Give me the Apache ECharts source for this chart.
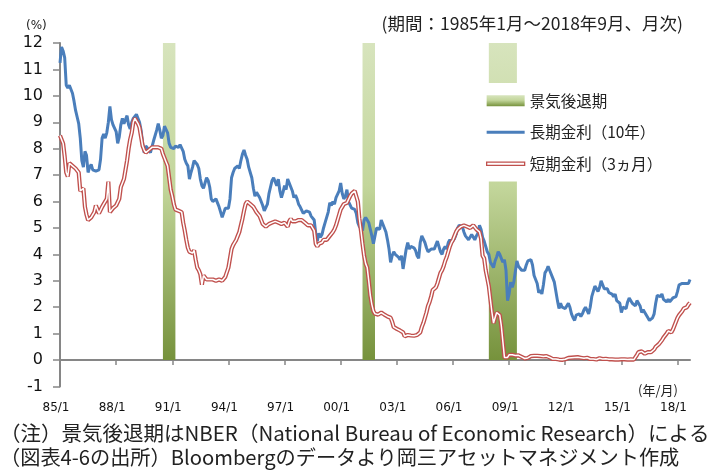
<!DOCTYPE html>
<html>
<head>
<meta charset="utf-8">
<script src="https://cdn.jsdelivr.net/npm/echarts@6/dist/echarts.min.js"></script>
<style>
  html, body { margin: 0; padding: 0; background: #fff; }
  #chart { width: 710px; height: 476px; }
</style>
</head>
<body>
<div id="chart"></div>
<script>
// 月次 1985/1 ～ 2018/9
const months = []
for (let y = 1985; y <= 2018; y++) {
  for (let m = 1; m <= 12; m++) {
    if (y === 2018 && m > 9) break
    months.push(String(y % 100).padStart(2, '0') + '/' + m)
  }
}

// 長期金利（10年）
const longRate = [
  11.25, 11.85, 11.7, 11.45, 10.4, 10.3, 10.4, 10.35, 10.1, 9.8, 9.45, 9.2, // 85
  8.95, 8.4, 7.55, 7.3, 7.9, 7.75, 7.1, 7.3, 7.4, 7.2, 7.2, 7.15, // 86
  7.15, 7.2, 7.6, 8.4, 8.55, 8.4, 8.6, 9.0, 9.6, 9.1, 8.9, 8.95, // 87
  8.65, 8.2, 8.45, 8.9, 9.15, 8.95, 9.1, 9.25, 8.9, 8.75, 9.0, 9.15, // 88
  9.1, 9.3, 9.3, 9.0, 8.7, 8.2, 7.85, 8.1, 8.15, 7.95, 7.85, 7.85, // 89
  8.3, 8.5, 8.7, 8.95, 8.7, 8.4, 8.5, 8.85, 8.8, 8.6, 8.2, 8.05, // 90
  8.05, 8.0, 8.1, 8.05, 8.05, 8.15, 8.2, 7.9, 7.6, 7.45, 7.35, 6.85, // 91
  7.1, 7.3, 7.55, 7.6, 7.4, 7.25, 6.85, 6.6, 6.5, 6.7, 6.9, 6.8, // 92
  6.55, 6.1, 6.0, 6.0, 6.1, 5.95, 5.8, 5.6, 5.4, 5.35, 5.75, 5.75, // 93
  5.75, 6.1, 6.9, 7.1, 7.25, 7.2, 7.35, 7.25, 7.55, 7.8, 7.95, 7.75, // 94
  7.6, 7.3, 7.1, 6.9, 6.5, 6.2, 6.35, 6.4, 6.15, 6.0, 5.85, 5.65, // 95
  5.6, 5.9, 6.3, 6.55, 6.8, 6.9, 6.95, 6.6, 6.85, 6.4, 6.15, 6.35, // 96
  6.6, 6.45, 6.85, 6.8, 6.55, 6.4, 6.15, 6.25, 6.1, 5.9, 5.8, 5.75, // 97
  5.55, 5.6, 5.65, 5.65, 5.6, 5.45, 5.45, 5.3, 4.8, 4.5, 4.8, 4.65, // 98
  4.75, 5.0, 5.2, 5.25, 5.6, 5.95, 5.85, 6.0, 5.9, 6.15, 6.1, 6.4, // 99
  6.7, 6.3, 6.1, 6.2, 6.45, 6.0, 5.95, 5.75, 5.8, 5.7, 5.55, 5.2, // 00
  5.05, 5.0, 4.9, 5.3, 5.4, 5.3, 5.2, 4.95, 4.7, 4.4, 4.35, 5.0, // 01
  5.05, 4.95, 5.3, 5.15, 5.1, 4.85, 4.55, 4.2, 3.7, 3.95, 4.1, 4.0, // 02
  4.05, 3.9, 3.8, 3.95, 3.45, 3.45, 4.2, 4.45, 4.2, 4.3, 4.3, 4.25, // 03
  4.15, 3.95, 3.85, 4.45, 4.7, 4.65, 4.45, 4.25, 4.1, 4.1, 4.2, 4.25, // 04
  4.2, 4.15, 4.5, 4.3, 4.1, 4.0, 4.2, 4.3, 4.2, 4.45, 4.55, 4.45, // 05
  4.45, 4.6, 4.75, 5.0, 5.1, 5.15, 5.05, 4.85, 4.7, 4.7, 4.55, 4.55, // 06
  4.75, 4.7, 4.55, 4.7, 4.8, 5.1, 4.95, 4.65, 4.5, 4.5, 4.1, 4.0, // 07
  3.7, 3.75, 3.5, 3.75, 3.9, 4.1, 4.0, 3.85, 3.7, 3.8, 3.4, 2.25, // 08
  2.5, 2.95, 2.75, 2.95, 3.35, 3.75, 3.55, 3.55, 3.4, 3.4, 3.4, 3.6, // 09
  3.75, 3.7, 3.8, 3.6, 3.2, 3.05, 2.9, 2.55, 2.65, 2.5, 2.85, 3.3, // 10
  3.4, 3.55, 3.4, 3.45, 3.1, 2.95, 2.9, 2.25, 1.95, 2.15, 2.0, 1.95, // 11
  1.95, 1.95, 2.15, 2.0, 1.75, 1.6, 1.5, 1.7, 1.75, 1.75, 1.65, 1.75, // 12
  1.9, 2.0, 1.95, 1.75, 2.0, 2.4, 2.6, 2.8, 2.8, 2.6, 2.75, 3.0, // 13
  2.85, 2.7, 2.75, 2.7, 2.55, 2.6, 2.5, 2.4, 2.5, 2.25, 2.3, 2.15, // 14
  1.8, 2.0, 2.0, 1.95, 2.2, 2.35, 2.3, 2.15, 2.15, 2.05, 2.25, 2.25, // 15
  2.05, 1.8, 1.9, 1.8, 1.8, 1.6, 1.5, 1.55, 1.6, 1.75, 2.15, 2.45, // 16
  2.45, 2.4, 2.5, 2.3, 2.3, 2.2, 2.3, 2.2, 2.2, 2.35, 2.35, 2.4, // 17
  2.6, 2.85, 2.85, 2.9, 2.95, 2.9, 2.9, 2.9, 3.05 // 18
]

// 短期金利（3ヵ月）
const shortRate = [
  8.5, 8.45, 8.2, 7.7, 7.1, 6.95, 7.45, 7.4, 7.35, 7.3, 7.25, 7.2, // 85
  7.1, 6.4, 6.35, 6.5, 5.8, 5.5, 5.3, 5.35, 5.4, 5.5, 5.6, 5.85, // 86
  5.7, 5.55, 5.6, 5.8, 5.9, 5.95, 6.1, 6.75, 5.6, 5.55, 5.75, 5.8, // 87
  5.85, 5.9, 6.1, 6.55, 6.7, 6.85, 7.2, 7.55, 8.0, 8.35, 8.6, 9.0, // 88
  9.15, 9.2, 8.95, 8.8, 8.45, 8.1, 7.95, 7.85, 7.9, 7.95, 8.0, 8.05, // 89
  8.05, 8.05, 8.1, 8.05, 8.0, 8.0, 7.8, 7.65, 7.5, 7.35, 6.9, 6.45, // 90
  6.2, 5.9, 5.7, 5.65, 5.65, 5.65, 5.6, 5.2, 4.9, 4.55, 4.25, 4.1, // 91
  4.05, 4.05, 4.15, 3.8, 3.5, 3.4, 3.25, 2.85, 3.2, 3.25, 3.05, 3.05, // 92
  3.05, 3.0, 3.05, 3.05, 3.0, 3.05, 3.05, 3.05, 3.0, 3.05, 3.15, 3.2, // 93
  3.5, 3.85, 4.2, 4.35, 4.45, 4.55, 4.7, 4.85, 5.1, 5.35, 5.65, 5.9, // 94
  6.0, 6.0, 5.9, 5.85, 5.8, 5.7, 5.6, 5.55, 5.45, 5.3, 5.15, 5.1, // 95
  5.05, 5.1, 5.15, 5.15, 5.2, 5.25, 5.25, 5.2, 5.2, 5.15, 5.15, 5.2, // 96
  5.2, 5.2, 5.05, 5.25, 5.35, 5.25, 5.2, 5.25, 5.25, 5.3, 5.25, 5.3, // 97
  5.25, 5.2, 5.15, 5.1, 5.05, 5.1, 5.05, 4.9, 4.4, 4.3, 4.4, 4.45, // 98
  4.45, 4.55, 4.5, 4.55, 4.6, 4.7, 4.75, 4.85, 4.95, 5.1, 5.3, 5.5, // 99
  5.7, 5.8, 5.9, 5.9, 5.95, 6.0, 6.2, 6.3, 6.35, 6.4, 6.2, 6.0, // 00
  5.35, 4.9, 4.4, 3.95, 3.65, 3.5, 3.0, 2.45, 2.1, 1.85, 1.75, 1.72, // 01
  1.72, 1.75, 1.8, 1.75, 1.72, 1.7, 1.65, 1.6, 1.6, 1.45, 1.25, 1.2, // 02
  1.18, 1.18, 1.12, 1.12, 1.05, 0.9, 0.92, 0.95, 0.95, 0.93, 0.95, 0.92, // 03
  0.92, 0.95, 0.95, 1.05, 1.25, 1.4, 1.6, 1.8, 2.05, 2.2, 2.4, 2.65, // 04
  2.7, 2.75, 2.9, 3.1, 3.3, 3.4, 3.55, 3.75, 3.9, 4.1, 4.3, 4.45, // 05
  4.55, 4.7, 4.85, 4.95, 5.0, 5.05, 5.1, 5.1, 5.05, 5.05, 5.0, 5.0, // 06
  5.05, 5.1, 5.05, 4.95, 4.9, 4.85, 4.6, 3.95, 3.85, 3.4, 3.1, 2.8, // 07
  2.3, 1.8, 1.4, 1.6, 1.8, 1.75, 1.7, 1.3, 0.7, 0.1, 0.05, 0.1, // 08
  0.2, 0.2, 0.2, 0.18, 0.17, 0.18, 0.18, 0.17, 0.12, 0.08, 0.06, 0.05, // 09
  0.08, 0.12, 0.15, 0.16, 0.16, 0.12, 0.16, 0.16, 0.15, 0.13, 0.14, 0.14, // 10
  0.15, 0.13, 0.1, 0.06, 0.04, 0.04, 0.04, 0.05, 0.02, 0.02, 0.01, 0.01, // 11
  0.03, 0.09, 0.08, 0.08, 0.09, 0.09, 0.1, 0.1, 0.11, 0.1, 0.09, 0.07, // 12
  0.07, 0.1, 0.09, 0.06, 0.04, 0.05, 0.04, 0.04, 0.02, 0.05, 0.07, 0.07, // 13
  0.04, 0.05, 0.05, 0.03, 0.03, 0.04, 0.03, 0.03, 0.02, 0.02, 0.02, 0.03, // 14
  0.03, 0.02, 0.03, 0.02, 0.02, 0.02, 0.03, 0.07, 0.02, 0.02, 0.2, 0.3, // 15
  0.28, 0.33, 0.3, 0.24, 0.28, 0.3, 0.3, 0.3, 0.32, 0.4, 0.5, 0.55, // 16
  0.6, 0.55, 0.75, 0.85, 0.9, 1.0, 1.1, 1.05, 1.05, 1.15, 1.3, 1.45, // 17
  1.6, 1.7, 1.75, 1.85, 1.95, 1.95, 2.0, 2.1, 2.17 // 18
]

// 景気後退期（NBER）
const recessions = [
  ['90/7', '91/3'],
  ['01/3', '01/11'],
  ['07/12', '09/6']
]
const RECESSION_TOP = 12

const BLUE = '#4a7ebb'
const RED = '#c0504d'
const JP = '"Noto Sans CJK JP", sans-serif'
const NUM = '"DejaVu Sans", sans-serif'

const recessionFill = {
  type: 'linear', x: 0, y: 0, x2: 0, y2: 1,
  colorStops: [
    { offset: 0, color: '#d7e4bd' },
    { offset: 0.45, color: '#c3d69b' },
    { offset: 1, color: '#76923c' }
  ]
}

const chart = echarts.init(document.getElementById('chart'))

chart.setOption({
  animation: false,
  backgroundColor: '#fff',
  grid: { left: 60, right: 20, top: 43, bottom: 89.5 },
  legend: {
    orient: 'vertical',
    left: 480,
    top: 83,
    padding: [10, 16, 10, 6],
    backgroundColor: '#fff',
    itemWidth: 38,
    itemHeight: 11,
    itemGap: 16,
    itemStyle: { borderWidth: 0 },
    textStyle: { fontFamily: JP, fontSize: 15.5, color: '#222', lineHeight: 15 },
    data: [
      { name: '景気後退期', icon: 'rect' },
      { name: '長期金利（10年）', icon: 'path://M0,0H38V3H0Z' },
      {
        name: '短期金利（3ヵ月）',
        icon: 'path://M0,0H38V3.4H0Z',
        itemStyle: { color: '#fff', borderColor: RED, borderWidth: 1.3 }
      }
    ]
  },
  xAxis: [
    {
      type: 'category',
      data: months,
      boundaryGap: false,
      axisLine: { show: false, onZero: false },
      axisTick: { show: false },
      axisLabel: {
        interval: 35,
        margin: 15,
        padding: [0, 8, 0, 0],
        fontFamily: NUM,
        fontSize: 12,
        color: '#111'
      },
      splitLine: { show: false }
    },
    {
      type: 'category',
      data: months,
      boundaryGap: false,
      position: 'bottom',
      axisLine: { onZero: true, lineStyle: { color: '#868686', width: 2 } },
      axisTick: { show: true, interval: 35, length: 5, lineStyle: { color: '#868686', width: 1.5 } },
      axisLabel: { show: false },
      splitLine: { show: false }
    }
  ],
  yAxis: {
    type: 'value',
    min: -1,
    max: 12,
    interval: 1,
    axisLine: { show: true, lineStyle: { color: '#868686', width: 2 } },
    axisTick: { show: true, length: 7, lineStyle: { color: '#868686', width: 1.5 } },
    axisLabel: { margin: 17, fontFamily: NUM, fontSize: 16, color: '#111' },
    splitLine: { show: false }
  },
  graphic: [
    {
      type: 'text', x: 26, y: 26,
      style: { text: '(%)', font: '12px ' + NUM, fill: '#222', textVerticalAlign: 'middle' }
    },
    {
      type: 'text', x: 683, y: 23,
      style: {
        text: '(期間：1985年1月～2018年9月、月次)',
        font: '17.5px ' + JP, fill: '#222', textAlign: 'right', textVerticalAlign: 'middle'
      }
    },
    {
      type: 'text', x: 678, y: 390,
      style: { text: '(年/月)', font: '13px ' + JP, fill: '#222', textAlign: 'right', textVerticalAlign: 'middle' }
    },
    {
      type: 'text', x: 0, y: 433,
      style: {
        text: '（注）景気後退期はNBER（National Bureau of Economic Research）による',
        font: '20.5px ' + JP, fill: '#222', textVerticalAlign: 'middle'
      }
    },
    {
      type: 'text', x: 0, y: 457,
      style: {
        text: '（図表4-6の出所）Bloombergのデータより岡三アセットマネジメント作成',
        font: '20.2px ' + JP, fill: '#222', textVerticalAlign: 'middle'
      }
    }
  ],
  series: [
    {
      name: '景気後退期',
      type: 'custom',
      z: 1,
      silent: true,
      itemStyle: { color: recessionFill },
      encode: { x: [0, 1] },
      data: recessions.map(r => [months.indexOf(r[0]), months.indexOf(r[1])]),
      renderItem: (params, api) => {
        const p0 = api.coord([api.value(0), RECESSION_TOP])
        const p1 = api.coord([api.value(1), 0])
        return {
          type: 'rect',
          shape: { x: p0[0], y: p0[1], width: p1[0] - p0[0], height: p1[1] - p0[1] },
          style: { fill: recessionFill }
        }
      }
    },
    {
      name: '長期金利（10年）',
      type: 'line',
      data: longRate,
      showSymbol: false,
      z: 3,
      itemStyle: { color: BLUE },
      lineStyle: { color: BLUE, width: 3 }
    },
    {
      name: '短期金利（3ヵ月）',
      type: 'line',
      data: shortRate,
      showSymbol: false,
      z: 4,
      itemStyle: { color: RED },
      lineStyle: { color: RED, width: 4.2 }
    },
    {
      name: '短期金利_inner',
      type: 'line',
      data: shortRate,
      showSymbol: false,
      z: 5,
      itemStyle: { color: '#fff' },
      lineStyle: { color: '#fff', width: 1.5 }
    }
  ]
})
</script>
</body>
</html>
